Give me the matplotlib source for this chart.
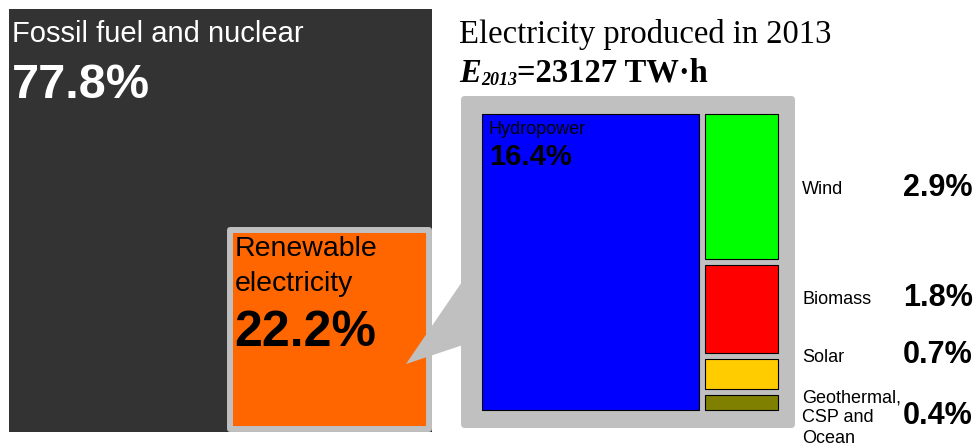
import matplotlib
matplotlib.use("Agg")
import matplotlib.pyplot as plt
from matplotlib.patches import Rectangle, FancyBboxPatch, Polygon
import numpy as np

# world electricity production 2013, shares in %
total_twh = 23127
fossil_share = 77.8
renewable_share = 22.2
sources = ["Hydropower", "Wind", "Biomass", "Solar", "Geothermal,\nCSP and\nOcean"]
source_share = [16.4, 2.9, 1.8, 0.7, 0.4]
source_colors = ["#0000ff", "#00ff00", "#ff0000", "#ffcc00", "#808000"]

SANS = "Liberation Sans"
SERIF = "Liberation Serif"
W, H = 977, 446

fig = plt.figure(figsize=(W / 100, H / 100), dpi=100)
ax = fig.add_axes([0, 0, 1, 1])
ax.set_xlim(0, W)
ax.set_ylim(H, 0)
ax.axis("off")

# ---- left: all electricity as one square, renewables as a square of proportional area
big_x, big_y, big_side = 9, 9, 423
ax.add_patch(Rectangle((big_x, big_y), big_side, big_side, fc="#333333", ec="none", zorder=1))
ax.text(big_x + 3, big_y + 33, "Fossil fuel and nuclear", family=SANS, size=21,
        color="white", va="baseline", zorder=5)
ax.text(big_x + 3, big_y + 89, f"{fossil_share}%", family=SANS, size=35,
        weight="bold", color="white", va="baseline", zorder=5)

ren_side = big_side * np.sqrt(renewable_share / 100)
rx = big_x + big_side - ren_side - 3
ry = rx
ax.add_patch(Rectangle((rx, ry), ren_side, ren_side, fc="#ff6600", ec="#c0c0c0",
                       lw=4.3, joinstyle="round", zorder=2))
ax.text(rx + 5, ry + 26, "Renewable", family=SANS, size=20.5, va="baseline", zorder=5)
ax.text(rx + 5, ry + 61, "electricity", family=SANS, size=20.5, va="baseline", zorder=5)
ax.text(rx + 5, ry + 116, f"{renewable_share}%", family=SANS, size=36,
        weight="bold", va="baseline", zorder=5)

# ---- callout pointing to the breakdown panel
ax.add_patch(Polygon([(406, 364), (466, 276), (466, 344)], closed=True,
                     fc="#c0c0c0", ec="none", zorder=3))
ax.add_patch(FancyBboxPatch((461, 96), 334, 332, boxstyle="round,pad=0,rounding_size=4",
                            fc="#c0c0c0", ec="none", zorder=3))

# ---- treemap of renewable sources: hydro column + stacked column of the rest
tx, ty, tside, gap = 479, 111, 302, 3
hydro_w = tside * source_share[0] / renewable_share
cells = [(tx, ty, hydro_w, tside)]
rest = sum(source_share[1:])
y = ty
for v in source_share[1:]:
    h = tside * v / rest
    cells.append((tx + hydro_w, y, tside - hydro_w, h))
    y += h

for (x0, y0, w, h), c in zip(cells, source_colors):
    ax.add_patch(Rectangle((x0 + gap, y0 + gap), w - 2 * gap, h - 2 * gap,
                           fc=c, ec="black", lw=0.8, zorder=4))

hx, hy = cells[0][0] + gap, cells[0][1] + gap
ax.text(hx + 7, hy + 20, sources[0], family=SANS, size=13, va="baseline", zorder=5)
ax.text(hx + 7, hy + 51, f"{source_share[0]}%", family=SANS, size=21,
        weight="bold", va="baseline", zorder=5)

label_y = [190, 300, 357, 418]
for name, v, ly in zip(sources[1:], source_share[1:], label_y):
    ax.text(802, ly, name, family=SANS, size=13, va="center", ha="left",
            linespacing=1.25, zorder=5)
    ax.text(973, ly - 2, f"{v}%", family=SANS, size=22, weight="bold",
            va="center", ha="right", zorder=5)

# ---- title
ax.text(459, 43, "Electricity produced in 2013", family=SERIF, size=23.5, va="baseline")
e_txt = ax.text(459, 82, "E", family=SERIF, size=23.5, weight="bold",
                style="italic", va="baseline")
sub = ax.annotate("2013", xy=(1, 0), xycoords=e_txt, family=SERIF, size=13,
                  weight="bold", style="italic", va="bottom", ha="left")
ax.annotate(f"={total_twh} TW\u00b7h", xy=(1, 0), xycoords=(sub, e_txt),
            family=SERIF, size=23.5, weight="bold", va="bottom", ha="left")

fig.savefig("out.png", dpi=100, facecolor="white")
